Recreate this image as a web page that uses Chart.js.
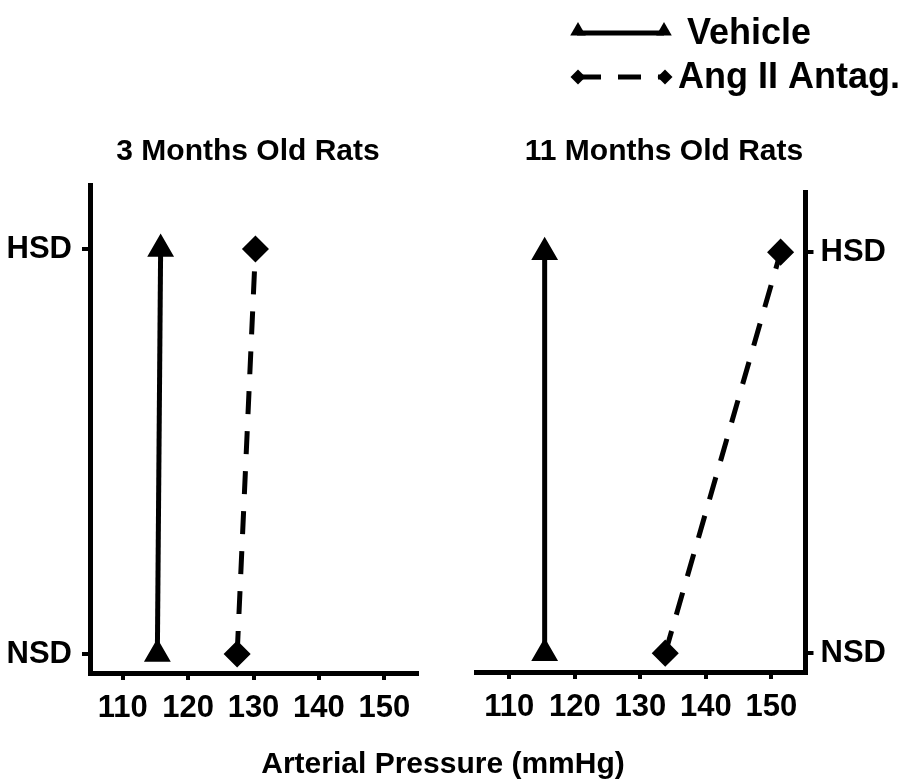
<!DOCTYPE html>
<html>
<head>
<meta charset="utf-8">
<script src="https://cdn.jsdelivr.net/npm/chart.js@4.4.1/dist/chart.umd.min.js"></script>
<style>
  body { margin: 0; background: #fff; }
  #wrap { position: relative; width: 922px; height: 781px; overflow: hidden; }
  canvas { position: absolute; top: 0; }
  #c3 { left: 0; }
  #c11 { left: 461px; }
  #xtitle {
    position: absolute; left: 0; width: 886px; top: 746px;
    text-align: center; line-height: 30px;
    font: bold 30px "Liberation Sans", Arial, sans-serif; color: #000;
  }
</style>
</head>
<body>
<div id="wrap">
  <canvas id="c3" width="461" height="781"></canvas>
  <canvas id="c11" width="461" height="781"></canvas>
  <div id="xtitle">Arterial Pressure (mmHg)</div>
</div>
<script>
// diet levels on the y axis (0 = bottom, 1 = top)
const levels = ['NSD', 'HSD'];
const xTicks = [110, 120, 130, 140, 150];
const seriesNames = ['Vehicle', 'Ang II Antag.'];
const panelTitles = ['3 Months Old Rats', '11 Months Old Rats'];

// arterial pressure (mmHg) at NSD, HSD
const vehicle3 = [115.3, 115.8];
const antag3 = [127.5, 130.3];
const vehicle11 = [115.4, 115.4];
const antag11 = [133.8, 151.4];

const FONT = '"Liberation Sans", Arial, sans-serif';

function pts(arr) {
  return arr.map((v, i) => ({ x: v, y: i }));
}

// panel heading
const panelTitle = {
  id: 'panelTitle',
  afterDraw(chart, args, o) {
    const ctx = chart.ctx;
    ctx.save();
    ctx.font = 'bold 30px ' + FONT;
    ctx.fillStyle = '#000';
    ctx.textAlign = 'center';
    ctx.textBaseline = 'middle';
    ctx.fillText(o.text, o.x, o.y);
    ctx.restore();
  }
};

// legend with line + two markers, like the original figure
const lineLegend = {
  id: 'lineLegend',
  afterDraw(chart, args, o) {
    if (!o.show) return;
    const ctx = chart.ctx;
    const tri = (x, y, r) => {
      ctx.beginPath();
      ctx.moveTo(x, y - r);
      ctx.lineTo(x + r * 0.866, y + r / 2);
      ctx.lineTo(x - r * 0.866, y + r / 2);
      ctx.closePath();
      ctx.fill();
    };
    const dia = (x, y, r) => {
      ctx.beginPath();
      ctx.moveTo(x, y - r);
      ctx.lineTo(x + r, y);
      ctx.lineTo(x, y + r);
      ctx.lineTo(x - r, y);
      ctx.closePath();
      ctx.fill();
    };
    ctx.save();
    ctx.fillStyle = '#000';
    ctx.strokeStyle = '#000';
    ctx.lineWidth = 5;
    // Vehicle
    ctx.beginPath();
    ctx.moveTo(116, 33); ctx.lineTo(203, 33);
    ctx.stroke();
    tri(117, 31, 9);
    tri(203, 31, 9);
    // Ang II Antag.
    ctx.setLineDash([23, 17]);
    ctx.beginPath();
    ctx.moveTo(117, 77); ctx.lineTo(204, 77);
    ctx.stroke();
    ctx.setLineDash([]);
    dia(117, 77, 7.5);
    dia(204, 77, 7.5);
    ctx.font = 'bold 36px ' + FONT;
    ctx.textBaseline = 'middle';
    ctx.textAlign = 'left';
    ctx.fillText(seriesNames[0], 226, 34);
    ctx.fillText(seriesNames[1], 217, 78);
    ctx.restore();
  }
};

function makePanel(id, vehicle, antag, o) {
  return new Chart(document.getElementById(id), {
    type: 'line',
    data: {
      datasets: [{
        label: seriesNames[0],
        data: pts(vehicle),
        borderColor: '#000',
        backgroundColor: '#000',
        borderWidth: 5,
        pointStyle: 'triangle',
        pointRadius: 10.5,
        pointHoverRadius: 10.5,
        clip: false
      }, {
        label: seriesNames[1],
        data: pts(antag),
        borderColor: '#000',
        backgroundColor: '#000',
        borderWidth: 5,
        borderDash: [23, 17],
        pointStyle: 'rectRot',
        pointRadius: 10,
        pointHoverRadius: 10,
        clip: false
      }]
    },
    options: {
      responsive: false,
      animation: false,
      devicePixelRatio: 1,
      events: [],
      layout: { padding: o.padding },
      plugins: {
        legend: { display: false },
        tooltip: { enabled: false },
        panelTitle: o.title,
        lineLegend: { show: o.legend }
      },
      scales: {
        x: {
          type: 'linear',
          min: 105,
          max: o.xMax,
          afterBuildTicks: s => { s.ticks = xTicks.map(v => ({ value: v })); },
          afterFit: s => { s.height = 90; },
          border: { display: true, width: 5, color: '#000' },
          grid: { drawOnChartArea: false, drawTicks: true, tickLength: 7, lineWidth: 4, color: '#000' },
          ticks: { color: '#000', font: { family: FONT, size: 31, weight: 'bold' }, padding: 10, maxRotation: 0 }
        },
        y: {
          type: 'linear',
          position: o.yPos,
          min: -0.047,
          max: o.yMax,
          afterBuildTicks: s => { s.ticks = levels.map((l, i) => ({ value: i })); },
          afterFit: s => { s.width = o.yWidth; },
          border: { display: true, width: 5, color: '#000' },
          grid: { drawOnChartArea: false, drawTicks: true, tickLength: 8, lineWidth: 4, color: '#000' },
          ticks: {
            color: '#000',
            font: { family: FONT, size: 31, weight: 'bold' },
            padding: o.yPad,
            callback: v => levels[v]
          }
        }
      }
    },
    plugins: [panelTitle, lineLegend]
  });
}

makePanel('c3', vehicle3, antag3, {
  padding: { left: 0, right: 44, top: 185, bottom: 18 },
  xMax: 155,
  yMax: 1.158,
  yPos: 'left',
  yWidth: 90,
  yPad: 10,
  title: { text: panelTitles[0], x: 248, y: 152 },
  legend: false
});

makePanel('c11', vehicle11, antag11, {
  padding: { left: 14, right: 0, top: 192, bottom: 19 },
  xMax: 155.2,
  yMax: 1.15,
  yPos: 'right',
  yWidth: 116.5,
  yPad: 7,
  title: { text: panelTitles[1], x: 203, y: 152 },
  legend: true
});
</script>
</body>
</html>
